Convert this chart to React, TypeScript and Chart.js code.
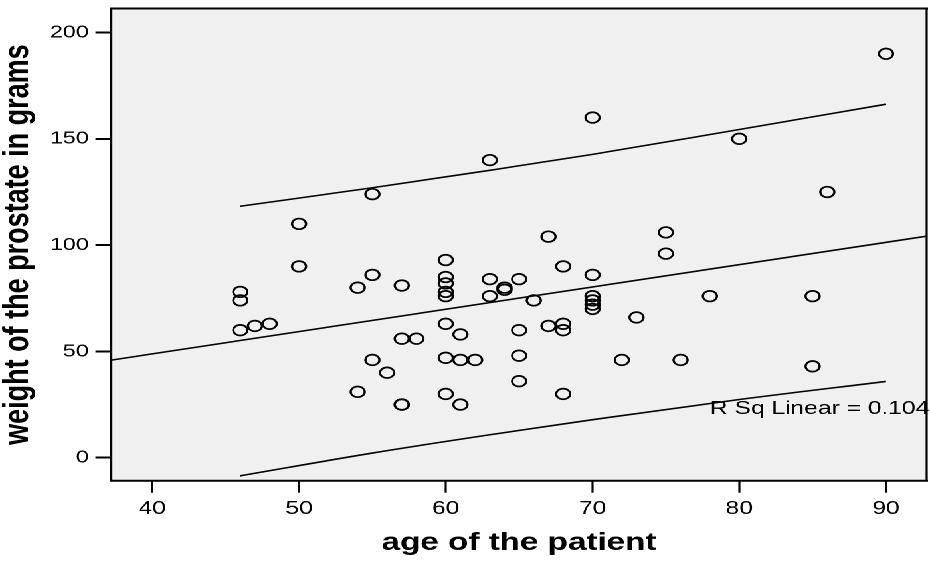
import React, { useEffect, useRef } from "react";
import { Chart, registerables } from "chart.js";

Chart.register(...registerables);

// age of the patient (x) and weight of the prostate in grams (y)
const ages = [
  46, 46, 46, 47, 48, 50, 50, 54, 54, 55, 55, 55, 56, 57, 57, 57, 57, 58,
  60, 60, 60, 60, 60, 60, 60, 60, 61, 61, 61, 62, 63, 63, 63, 64, 64,
  65, 65, 65, 65, 66, 67, 67, 68, 68, 68, 68, 70, 70, 70, 70, 70, 70,
  72, 73, 75, 75, 76, 78, 80, 85, 85, 86, 90,
];
const weights = [
  78, 74, 60, 62, 63, 110, 90, 80, 31, 124, 86, 46, 40, 81, 56, 25, 25, 56,
  93, 85, 82, 78, 76, 63, 47, 30, 58, 46, 25, 46, 140, 84, 76, 80, 79,
  84, 60, 48, 36, 74, 104, 62, 90, 63, 60, 30, 160, 86, 76, 74, 72, 70,
  46, 66, 106, 96, 46, 76, 150, 76, 43, 125, 190,
];

// fit line and prediction band
const fitX = [37.2, 92.77];
const fitY = [45.9, 104.2];
const bandX = [46, 55, 63, 70, 80, 90];
const upperY = [118.3, 127.0, 135.2, 142.7, 154.4, 166.3];
const lowerY = [-8.5, 2.2, 10.8, 17.9, 27.4, 35.9];

const xTicks = [40, 50, 60, 70, 80, 90];
const yTicks = [0, 50, 100, 150, 200];

const rsqLabel = "R Sq Linear = 0.104";
const rsqX = 78.0;
const rsqY = 20.5;

const xTitle = "age of the patient";
const yTitle = "weight of the prostate in grams";

const W = 700;
const H = 561;
const STRETCH = 930 / W;
const FONT = "'Liberation Sans', Arial, Helvetica, sans-serif";

const zeroPad = (s: any) => {
  s.paddingTop = 0;
  s.paddingBottom = 0;
  s.paddingLeft = 0;
  s.paddingRight = 0;
};

const boxPlugin = {
  id: "boxPlugin",
  beforeDraw(chart: any) {
    const { ctx, chartArea: a } = chart;
    ctx.save();
    ctx.fillStyle = "#fff";
    ctx.fillRect(0, 0, chart.width, chart.height);
    ctx.fillStyle = "#f0f0f0";
    ctx.fillRect(a.left, a.top, a.right - a.left, a.bottom - a.top);
    ctx.restore();
  },
  afterDraw(chart: any) {
    const { ctx, chartArea: a, scales } = chart;
    ctx.save();
    ctx.strokeStyle = "#000";
    ctx.lineWidth = 2;
    ctx.beginPath();
    ctx.moveTo(a.left - 1, a.top);
    ctx.lineTo(a.right + 1, a.top);
    ctx.moveTo(a.left - 1, a.bottom);
    ctx.lineTo(a.right + 1, a.bottom);
    ctx.stroke();
    ctx.lineWidth = 1.6;
    ctx.beginPath();
    ctx.moveTo(a.left, a.top);
    ctx.lineTo(a.left, a.bottom);
    ctx.moveTo(a.right, a.top);
    ctx.lineTo(a.right, a.bottom);
    ctx.stroke();
    // R Sq label
    ctx.fillStyle = "#000";
    ctx.font = `18.5px ${FONT}`;
    ctx.textAlign = "left";
    ctx.textBaseline = "alphabetic";
    ctx.fillText(rsqLabel, scales.x.getPixelForValue(rsqX), scales.y.getPixelForValue(rsqY));
    ctx.restore();
  },
};

export default function App() {
  const ref = useRef<HTMLCanvasElement | null>(null);
  useEffect(() => {
    if (!ref.current) return;
    const points = ages.map((a, i) => ({ x: a, y: weights[i] }));
    const chart = new Chart(ref.current, {
      type: "scatter",
      data: {
        datasets: [
          {
            label: "data",
            data: points,
            pointStyle: "circle",
            pointRadius: 5.3,
            pointBorderWidth: 1.7,
            borderColor: "#000",
            backgroundColor: "rgba(0,0,0,0)",
            showLine: false,
          },
          {
            label: "fit",
            data: fitX.map((x, i) => ({ x, y: fitY[i] })),
            showLine: true,
            borderColor: "#000",
            borderWidth: 1.6,
            pointRadius: 0,
            fill: false,
          },
          {
            label: "upper",
            data: bandX.map((x, i) => ({ x, y: upperY[i] })),
            showLine: true,
            borderColor: "#000",
            borderWidth: 1.6,
            pointRadius: 0,
            cubicInterpolationMode: "monotone",
            fill: false,
          },
          {
            label: "lower",
            data: bandX.map((x, i) => ({ x, y: lowerY[i] })),
            showLine: true,
            borderColor: "#000",
            borderWidth: 1.6,
            pointRadius: 0,
            cubicInterpolationMode: "monotone",
            fill: false,
          },
        ],
      },
      options: {
        animation: false,
        responsive: false,
        devicePixelRatio: 2,
        layout: { autoPadding: false, padding: { left: 0, right: 2.5, top: 8.5, bottom: 0 } },
        plugins: {
          legend: { display: false },
          tooltip: { enabled: false },
        },
        scales: {
          x: {
            type: "linear",
            min: 37.21,
            max: 92.77,
            afterBuildTicks: (s: any) => {
              s.ticks = xTicks.map((v) => ({ value: v }));
            },
            afterFit: (s: any) => {
              s.height = 80.3;
              zeroPad(s);
            },
            border: { display: false },
            grid: {
              drawOnChartArea: false,
              drawTicks: true,
              tickLength: 12,
              tickWidth: 1.6,
              tickColor: "#000",
            },
            ticks: {
              color: "#000",
              font: { family: FONT, size: 18.5 },
              padding: 5,
              maxRotation: 0,
            },
            title: {
              display: true,
              text: xTitle,
              color: "#000",
              font: { family: FONT, size: 25, weight: "bold", lineHeight: 1.2 },
              padding: { top: 0, bottom: 3 },
            },
          },
          y: {
            type: "linear",
            min: -10.8,
            max: 211.3,
            afterBuildTicks: (s: any) => {
              s.ticks = yTicks.map((v) => ({ value: v }));
            },
            afterFit: (s: any) => {
              s.width = 83.8;
              zeroPad(s);
            },
            border: { display: false },
            grid: {
              drawOnChartArea: false,
              drawTicks: true,
              tickLength: 12,
              tickWidth: 2,
              tickColor: "#000",
            },
            ticks: {
              color: "#000",
              font: { family: FONT, size: 17.5 },
              padding: 5,
            },
            title: {
              display: true,
              text: yTitle,
              color: "#000",
              font: { family: FONT, size: 27, weight: "bold", lineHeight: 1 },
              padding: { top: 0, bottom: 0 },
            },
          },
        },
      },
      plugins: [boxPlugin],
    });
    return () => chart.destroy();
  }, []);

  return (
    <div
      style={{
        position: "fixed",
        left: 0,
        top: 0,
        width: W,
        height: H,
        transform: `scaleX(${STRETCH})`,
        transformOrigin: "0 0",
        background: "#fff",
      }}
    >
      <canvas ref={ref} width={W} height={H} style={{ display: "block", width: W, height: H }} />
    </div>
  );
}
